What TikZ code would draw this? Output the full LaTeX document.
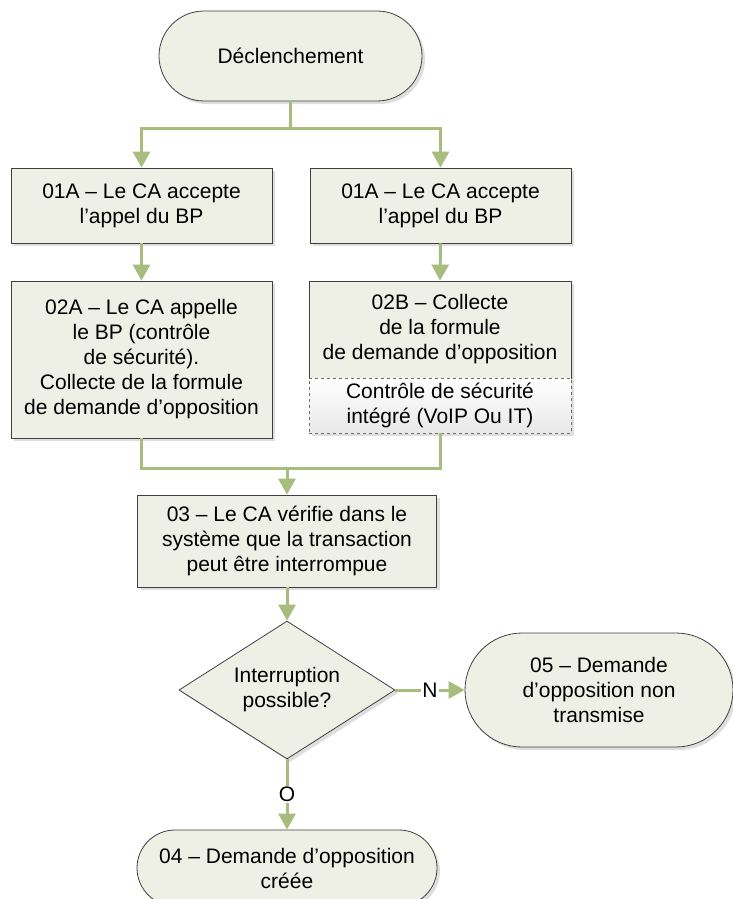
\documentclass[tikz,border=0pt]{standalone}
\usepackage{fontspec}
\setmainfont{Liberation Sans}
\usetikzlibrary{arrows.meta,shapes.geometric,shadows}

\definecolor{boxfill}{RGB}{238,240,229}
\definecolor{boxline}{RGB}{64,64,64}
\definecolor{flowcol}{RGB}{168,188,126}
\definecolor{dashline}{RGB}{110,110,110}

\tikzset{
  txt/.style={font=\fontsize{21}{25}\selectfont, align=center},
  base/.style={txt, draw=boxline, line width=0.8pt, fill=boxfill, inner sep=0pt,
    drop shadow={shadow xshift=3pt, shadow yshift=-3pt, fill=black, opacity=0.13}},
  stepbox/.style={base, rectangle, minimum width=261pt},
  terminal/.style={base, rectangle},
  decision/.style={base, diamond, aspect=1.56, minimum width=216pt, minimum height=138pt},
  subbox/.style={txt, rectangle, draw=dashline, dashed, line width=0.8pt, inner sep=0pt,
    top color=white, bottom color=black!9, minimum width=262pt, minimum height=55pt,
    drop shadow={shadow xshift=3pt, shadow yshift=-3pt, fill=black, opacity=0.13}},
  link/.style={draw=flowcol, line width=3pt},
  flow/.style={link, -{Triangle[width=17pt,length=16pt]}},
  answer/.style={txt, fill=white, inner sep=1.5pt}
}

\begin{document}
\begin{tikzpicture}[x=1pt,y=-1pt]
\useasboundingbox (0,0) rectangle (733,899);

% start terminal
\node[terminal, minimum width=263pt, minimum height=90pt, rounded corners=45pt]
  (start) at (290.5,56) {Déclenchement};

% two branches
\node[stepbox, minimum height=75pt] (a1) at (141.5,205.5) {01A – Le CA accepte\\l’appel du BP};
\node[stepbox, minimum height=75pt] (b1) at (440.5,205.5) {01A – Le CA accepte\\l’appel du BP};

\node[stepbox, minimum height=157pt] (a2) at (141.5,359.5)
  {02A – Le CA appelle\\le BP (contrôle\\de sécurité).\\Collecte de la formule\\de demande d’opposition};
\node[stepbox, minimum width=262pt, minimum height=97pt] (b2) at (440,329.5)
  {02B – Collecte\\de la formule\\de demande d’opposition};
\node[subbox] (ctrl) at (440,405.5) {Contrôle de sécurité\\intégré (VoIP Ou IT)};

% merge step
\node[stepbox, minimum width=299pt, minimum height=92pt] (c3) at (287,541)
  {03 – Le CA vérifie dans le\\système que la transaction\\peut être interrompue};

% decision
\node[decision] (dec) at (287,690) {Interruption\\possible?};

% end terminals
\node[terminal, minimum width=268pt, minimum height=114pt, rounded corners=57pt]
  (notsent) at (599,690) {05 – Demande\\d’opposition non\\transmise};
\node[terminal, minimum width=300pt, minimum height=76pt, rounded corners=38pt]
  (created) at (287,868) {04 – Demande d’opposition\\créée};

% junctions
\coordinate (j1) at (290.5,128);
\coordinate (j2) at (287,468);

% connectors
\draw[link] (start.south) -- (j1);
\draw[flow] (j1) -| (a1.north);
\draw[flow] (j1) -| (b1.north);
\draw[flow] (a1.south) -- (a2.north);
\draw[flow] (b1.south) -- (b2.north);
\draw[link] (a2.south) |- (j2);
\draw[link] (ctrl.south) |- (j2);
\draw[flow] (j2) -- (c3.north);
\draw[flow] (c3.south) -- (dec.north);
\draw[flow] (dec.east) -- node[answer] (lblN) {N} (notsent.west);
\draw[flow] (dec.south) -- node[answer] (lblO) {O} (created.north);

\end{tikzpicture}
\end{document}
